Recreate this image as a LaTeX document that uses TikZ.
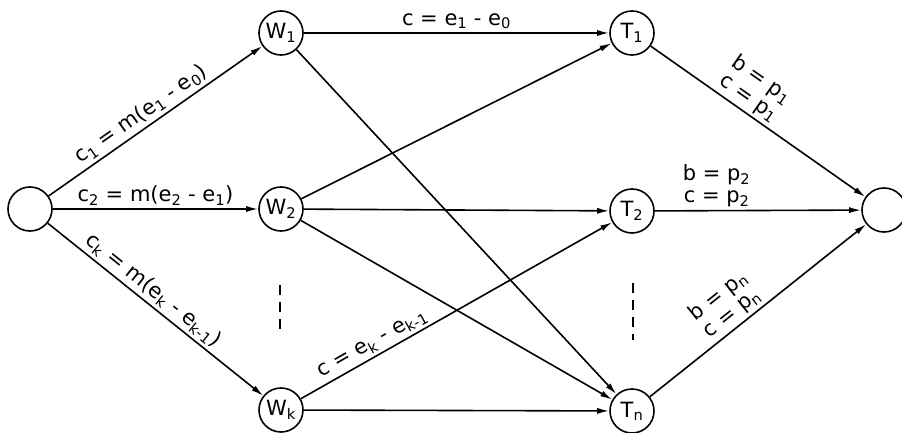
\documentclass[tikz,border=0pt]{standalone}
\usepackage{fontspec}
\setmainfont{DejaVu Sans}
\usetikzlibrary{arrows.meta}
\newcommand{\sbs}[1]{\textsubscript{#1}}
\begin{document}
\begin{tikzpicture}[x=1pt,y=-1pt,
  vert/.style={circle,draw,line width=1.6pt,minimum size=44pt,inner sep=0pt,font=\fontsize{21}{23}\selectfont},
  arr/.style={line width=1.6pt,-{Latex[length=12pt,width=6pt]}},
  lab/.style={font=\fontsize{21}{22}\selectfont,sloped,above,inner sep=3pt,align=center},
  ellip/.style={line width=1.6pt,dash pattern=on 10pt off 7pt}]
\useasboundingbox (0,0) rectangle (902,433);
\node[vert] (S) at (30,209) {};
\node[vert] (W1) at (281,33) {W\sbs{1}};
\node[vert] (W2) at (281,209) {W\sbs{2}};
\node[vert] (Wk) at (281,410) {W\sbs{k}};
\node[vert] (T1) at (632,33) {T\sbs{1}};
\node[vert] (T2) at (632,211) {T\sbs{2}};
\node[vert] (Tn) at (632,411) {T\sbs{n}};
\node[vert] (Z) at (884,210) {};
\coordinate (d1a) at (280,285);
\coordinate (d1b) at (280,334);
\coordinate (d2a) at (633,283);
\coordinate (d2b) at (633,340);
\draw[ellip] (d1a) -- (d1b);
\draw[ellip] (d2a) -- (d2b);
\draw[arr] (S) -- node[lab,pos=0.47] {c\sbs{1} = m(e\sbs{1} - e\sbs{0})} (W1);
\draw[arr] (S) -- node[lab] {c\sbs{2} = m(e\sbs{2} - e\sbs{1})} (W2);
\draw[arr] (S) -- node[lab,pos=0.45] {c\sbs{k} = m(e\sbs{k} - e\sbs{k-1})} (Wk);
\draw[arr] (W1) -- node[lab] {c = e\sbs{1} - e\sbs{0}} (T1);
\draw[arr] (W1) -- (Tn);
\draw[arr] (W2) -- (T1);
\draw[arr] (W2) -- (T2);
\draw[arr] (W2) -- (Tn);
\draw[arr] (Wk) -- node[lab,pos=0.25] {c = e\sbs{k} - e\sbs{k-1}} (T2);
\draw[arr] (Wk) -- (Tn);
\draw[arr] (T1) -- node[lab,pos=0.42] {b = p\sbs{1}\\ c = p\sbs{1}} (Z);
\draw[arr] (T2) -- node[lab,pos=0.3] {b = p\sbs{2}\\ c = p\sbs{2}} (Z);
\draw[arr] (Tn) -- node[lab,pos=0.42] {b = p\sbs{n}\\ c = p\sbs{n}} (Z);
\end{tikzpicture}
\end{document}
